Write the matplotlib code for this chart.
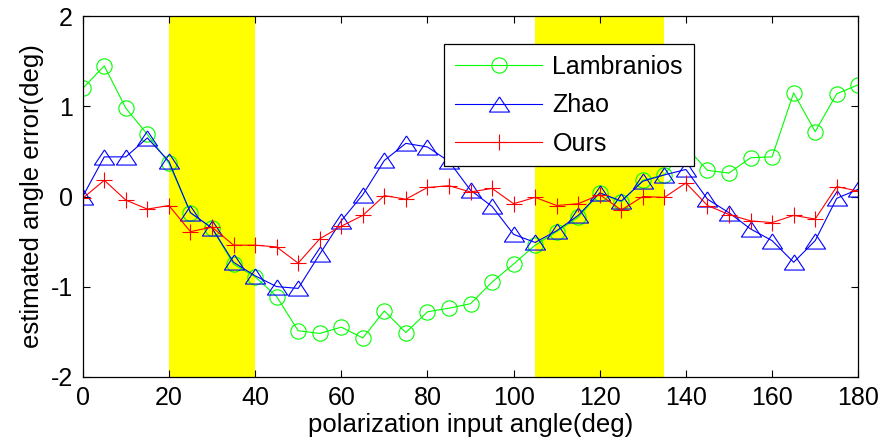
import numpy as np
import matplotlib.pyplot as plt

plt.rcParams['font.family'] = ['Liberation Sans', 'DejaVu Sans']
plt.rcParams['axes.unicode_minus'] = False

# input angle, every 5 degrees
angle = np.arange(0, 181, 5)

lambranios = [1.20, 1.45, 0.98, 0.69, 0.37, -0.18, -0.35, -0.75, -0.89, -1.11,
              -1.49, -1.52, -1.45, -1.57, -1.27, -1.51, -1.28, -1.24, -1.19, -0.95,
              -0.75, -0.54, -0.39, -0.23, 0.04, -0.06, 0.18, 0.24, 0.55, 0.29,
              0.26, 0.43, 0.44, 1.15, 0.72, 1.14, 1.24]
zhao = [0.00, 0.44, 0.44, 0.65, 0.39, -0.18, -0.35, -0.73, -0.88, -1.00,
        -1.02, -0.64, -0.27, 0.02, 0.40, 0.59, 0.55, 0.39, 0.07, -0.11,
        -0.42, -0.51, -0.38, -0.21, 0.04, -0.05, 0.17, 0.24, 0.30, -0.03,
        -0.18, -0.36, -0.49, -0.73, -0.49, -0.02, 0.08]
ours = [-0.02, 0.18, -0.04, -0.14, -0.10, -0.39, -0.34, -0.54, -0.54, -0.56,
        -0.74, -0.47, -0.33, -0.21, 0.01, -0.03, 0.10, 0.12, 0.05, 0.09,
        -0.08, -0.01, -0.10, -0.08, 0.02, -0.15, 0.00, -0.01, 0.15, -0.10,
        -0.20, -0.27, -0.29, -0.21, -0.25, 0.11, 0.06]

# highlighted angle ranges
bands = [(20, 40), (105, 135)]

fig = plt.figure(figsize=(8.82, 4.47), dpi=100)
ax = fig.add_axes([0.0938, 0.1573, 0.8793, 0.8062])

for a, b in bands:
    ax.axvspan(a, b, color='#ffff00', zorder=0, lw=0)

# wide triangle like matlab's '^'
tri = [(0, 0.75), (-1, -0.75), (1, -0.75), (0, 0.75)]

ax.plot(angle, lambranios, '-', color='#00ff00', lw=0.8, marker='o', ms=11,
        mfc='none', mew=0.8, label='Lambranios')
ax.plot(angle, zhao, '-', color='#0000ff', lw=0.8, marker=tri, ms=14.5,
        mfc='none', mew=0.8, label='Zhao')
ax.plot(angle, ours, '-', color='#ff0000', lw=0.8, marker='+', ms=11,
        mew=0.8, label='Ours')

ax.set_xlim(0, 180)
ax.set_ylim(-2, 2)
ax.set_xticks(np.arange(0, 181, 20))
ax.set_yticks([-2, -1, 0, 1, 2])
ax.tick_params(direction='in', top=True, right=True, labelsize=18, length=5,
               width=0.8, pad=7)
for s in ax.spines.values():
    s.set_linewidth(0.9)

ax.set_xlabel('polarization input angle(deg)', fontsize=18.5, labelpad=2)
ax.set_ylabel('estimated angle error(deg)', fontsize=18.5, labelpad=5)

leg = ax.legend(loc='upper left', bbox_to_anchor=(0.466, 0.922), fontsize=18,
                numpoints=1, handlelength=3.5, handletextpad=0.4,
                labelspacing=0.57, borderpad=0.43, borderaxespad=0,
                fancybox=False, framealpha=1, edgecolor='black')
leg.get_frame().set_linewidth(0.9)

plt.savefig('out.png', dpi=100)
